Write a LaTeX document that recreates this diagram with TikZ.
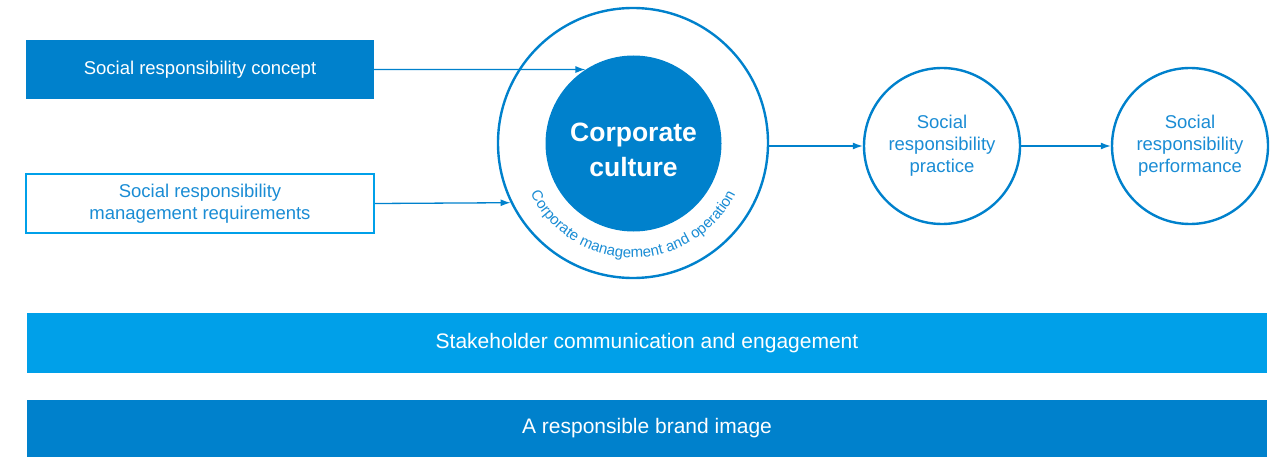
\documentclass[tikz,border=0pt]{standalone}
\usepackage{fontspec}
\setmainfont{Liberation Sans}
\usetikzlibrary{arrows.meta, positioning, decorations.text}
\definecolor{csrdark}{RGB}{0,129,204}
\definecolor{csrlight}{RGB}{0,160,233}
\definecolor{csrtext}{RGB}{26,140,212}
\newcommand{\fsize}[1]{\fontsize{#1}{22}\selectfont}
\newcommand{\culturefont}{\bfseries\fontsize{26.5}{35}\selectfont}

\begin{document}
\begin{tikzpicture}[x=1pt, y=-1pt,
	box/.style={minimum width=348, minimum height=59, inner sep=0, align=center, font=\fsize{18.5}},
	ring/.style={circle, draw=csrdark, line width=2.4pt, inner sep=0, align=center, text=csrtext, font=\fsize{18.5}},
	bar/.style={fill=#1, minimum width=1240, minimum height=60, inner sep=0, text=white, font=\fsize{21}},
	flow/.style={draw=csrdark, line width=1.3pt, -{Latex[length=10pt,width=7pt]}}]
			\useasboundingbox (0,0) rectangle (1281,457);
			% Inputs on the left
			\node[box, fill=csrdark, text=white] (concept) at (200,69.5) {Social responsibility concept};
			\node[box, draw=csrlight, line width=2.2pt, text=csrtext] (requirements) at (200,203.5) {Social responsibility\\management requirements};
			% Culture inside management ring
			\node[ring, minimum size=270] (frame) at (633,143) {};
			\node[circle, fill=csrdark, minimum size=176, inner sep=0,
				label={[text=white, align=center, font=\culturefont, yshift=-6pt]center:Corporate\\culture}] (culture) at (633.5,143.5) {};
			\begin{scope}[shift={(frame.center)}, x=1pt, y=1pt]
				\path[decorate, decoration={text along path, text align=center,
					text={|\fsize{15}\color{csrtext}|Corporate management and operation}}]
					(200:114.5) arc[start angle=200, end angle=340, radius=114.5];
			\end{scope}
			% Practice and performance
			\node[ring, minimum size=156] (practice) at (942,146) {Social\\responsibility\\practice};
			\node[ring, minimum size=156] (performance) at (1190,146) {Social\\responsibility\\performance};
			\draw[flow] (concept.east) -- (culture.123);
			\draw[flow] (requirements.east) -- (frame.206.5);
			\draw[flow] (practice.west -| frame.east) -- (practice.west);
			\draw[flow] (practice.east) -- (performance.west);
			% Bars at the bottom
			\node[bar=csrlight] (engagement) at (647,343) {Stakeholder communication and engagement};
			\node[bar=csrdark, minimum height=57] (brand) at (647,428.5) {A responsible brand image};
\end{tikzpicture}
\end{document}
